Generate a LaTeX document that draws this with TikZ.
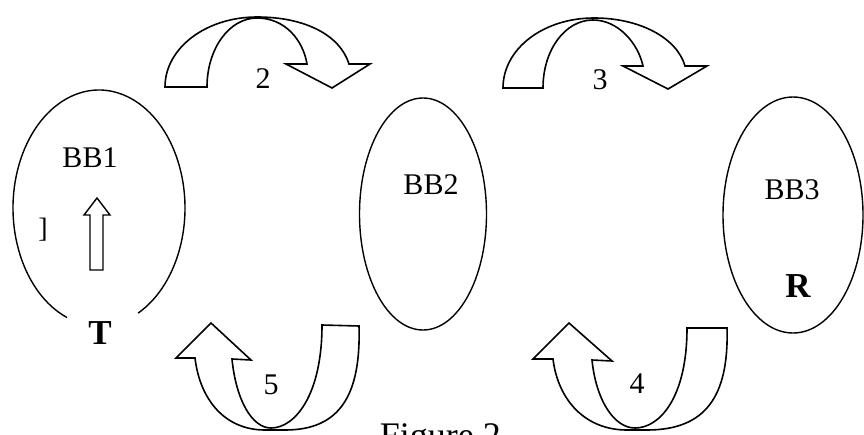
\documentclass[tikz,border=0pt]{standalone}
\usepackage{fontspec}
\setmainfont{Liberation Serif}
\usetikzlibrary{shapes.geometric}
\begin{document}
\begin{tikzpicture}[x=1pt,y=-1pt,
  outline/.style={line width=1.6pt, line join=miter, line cap=butt},
  bbell/.style={ellipse, draw, line width=1.4pt, inner sep=0pt},
  lbl/.style={inner sep=0pt, font=\fontsize{30}{30}\selectfont},
  bold/.style={inner sep=0pt, font=\fontsize{35}{35}\selectfont\bfseries}]
\useasboundingbox (0,0) rectangle (864,434);
\clip (0,0) rectangle (864,434);

% ---- BB1 (open at the bottom) ----
\draw[line width=1.4pt] ([shift={(111.8:86 and 118)}]99,208)
   arc[start angle=111.8, end angle=423, x radius=86, y radius=118];
\node[lbl] (bb1) at (90,158) {BB1};
\node[inner sep=0pt, font=\fontsize{28}{28}\selectfont] (br) at (43,230) {]};
\draw[line width=1.4pt, line join=miter] (90,270) -- (90,215) -- (84,215) -- (97,198)
   -- (110,215) -- (103,215) -- (103,270) -- cycle;
\node[bold] (T) at (100,333) {T};

% ---- BB2 ----
\node[bbell, minimum width=127pt, minimum height=232pt] (e2) at (423,214) {};
\node[lbl] (bb2) at (431,185) {BB2};

% ---- BB3 ----
\node[bbell, minimum width=140pt, minimum height=236pt] (e3) at (793,215) {};
\node[lbl] (bb3) at (792,190) {BB3};
\node[bold] (R) at (798,286) {R};

% ---- arrow 2 ----
\draw[outline] (165,87) .. controls (165,48) and (206,17) .. (257,17)
   .. controls (305,17) and (340,35) .. (349,64)
   -- (370,64) -- (332,88) -- (286,64) -- (307,64)
   .. controls (303,40) and (285,18) .. (257,18)
   .. controls (229,18) and (207,49) .. (207,87) -- cycle;
\node[lbl] (n2) at (263,79) {2};

% ---- arrow 3 ----
\draw[outline] (503,88) .. controls (503,49) and (543,18) .. (594,18)
   .. controls (640,18) and (677,38) .. (685,66)
   -- (707,66) -- (668,89) -- (623,66) -- (643,66)
   .. controls (638,43) and (618,20) .. (593,20)
   .. controls (565,20) and (543,50) .. (543,88) -- cycle;
\node[lbl] (n3) at (600,80) {3};

% ---- arrow 5 ----
\draw[outline] (195,358) .. controls (200,400) and (225,430) .. (265,430)
   -- (285,430) .. controls (340,430) and (361,395) .. (359,326)
   -- (322,325) .. controls (322,395) and (295,428) .. (271,428)
   .. controls (252,428) and (236,400) .. (232,359)
   -- (251,360) -- (211,323) -- (176,358) -- cycle;
\node[lbl] (n5) at (271,385) {5};

% ---- arrow 4 ----
\draw[outline] (553,359) .. controls (558,400) and (585,430) .. (627,430)
   -- (647,430) .. controls (705,430) and (729,397) .. (727,328)
   -- (687,328) .. controls (687,397) and (660,428) .. (635,428)
   .. controls (614,428) and (596,400) .. (592,360)
   -- (612,361) -- (569,323) -- (533,359) -- cycle;
\node[lbl] (n4) at (637,384) {4};

% ---- caption (cut by the lower edge, as in the reference) ----
\node[inner sep=0pt, anchor=base east, font=\fontsize{36}{36}\selectfont] (cap) at (501,447) {Figure 2};
\end{tikzpicture}
\end{document}
